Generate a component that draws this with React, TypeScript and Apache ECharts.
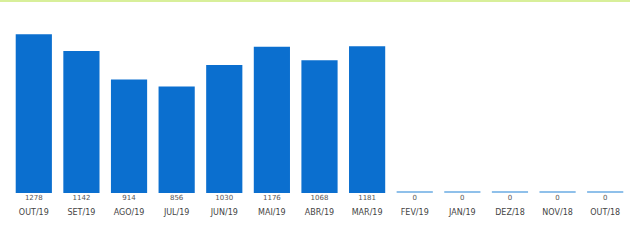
import React, { useEffect, useRef } from "react";
import * as echarts from "echarts";

const categories = ["OUT/19", "SET/19", "AGO/19", "JUL/19", "JUN/19", "MAI/19", "ABR/19", "MAR/19", "FEV/19", "JAN/19", "DEZ/18", "NOV/18", "OUT/18"];
const values = [1278, 1142, 914, 856, 1030, 1176, 1068, 1181, 0, 0, 0, 0, 0];

export default function App() {
  const ref = useRef<HTMLDivElement>(null);
  useEffect(() => {
    if (!ref.current) return;
    const chart = echarts.init(ref.current, undefined, { renderer: "svg" });
    chart.setOption({
      animation: false,
      backgroundColor: "#ffffff",
      grid: { left: 10, right: 1, top: 19, bottom: 48 },
      xAxis: {
        type: "category",
        data: categories,
        axisLine: { show: false },
        axisTick: { show: false },
        axisLabel: {
          interval: 0,
          margin: 1,
          formatter: (v: string, i: number) => `{v|${values[i]}}\n{c|${v}}`,
          rich: {
            v: { fontSize: 7, color: "#555", fontFamily: "DejaVu Sans", lineHeight: 8 },
            c: { fontSize: 8, color: "#444", fontFamily: "DejaVu Sans", lineHeight: 20 },
          },
        },
      },
      yAxis: { type: "value", min: 0, max: 1400, show: false, splitLine: { show: false } },
      series: [
        {
          type: "bar",
          barWidth: "76%",
          barMinHeight: 2,
          data: values.map((v) => ({
            value: v,
            itemStyle: { color: v === 0 ? "#8fc0ea" : "#0b6fcf" },
          })),
        },
      ],
      graphic: [
        { type: "line", shape: { x1: 0, y1: 1, x2: 630, y2: 1 }, style: { stroke: "#d8ef9a", lineWidth: 2 } },
      ],
    });
    return () => chart.dispose();
  }, []);
  return <div ref={ref} style={{ position: "fixed", left: 0, top: 0, width: 630, height: 241 }} />;
}
